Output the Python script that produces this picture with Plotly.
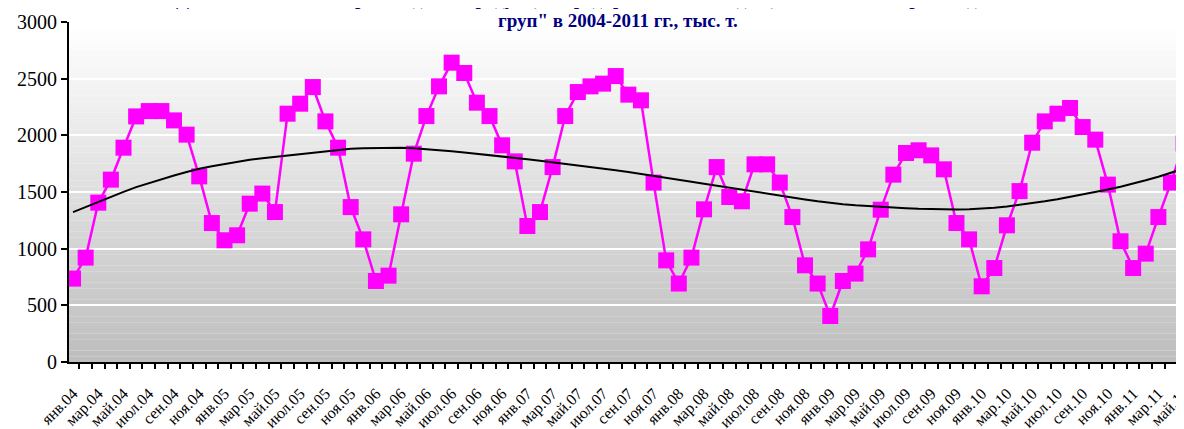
import plotly.graph_objects as go

month_names = ["янв", "фев", "мар", "апр", "май", "июн", "июл", "авг", "сен", "окт", "ноя", "дек"]
years = ["04", "05", "06", "07", "08", "09", "10", "11"]
categories = [f"{m}.{y}" for y in years for m in month_names][:89]  # янв.04 … май.11

production = [
    736, 921, 1406, 1609, 1891, 2167, 2214, 2214, 2132, 2006, 1638, 1226,
    1074, 1118, 1397, 1486, 1323, 2191, 2279, 2426, 2123, 1891, 1367, 1082,
    715, 762, 1303, 1838, 2170, 2432, 2641, 2550, 2288, 2170, 1912, 1770,
    1200, 1323, 1720, 2170, 2382, 2432, 2456, 2523, 2359, 2309, 1583, 897,
    692, 921, 1347, 1720, 1456, 1418, 1744, 1744, 1583, 1279, 853, 692,
    406, 715, 780, 994, 1344, 1653, 1844, 1868, 1823, 1700, 1226, 1082,
    668, 829, 1206, 1508, 1935, 2123, 2191, 2241, 2073, 1962, 1565, 1065,
    829, 956, 1279, 1583, 1927,
]

trend = [
    1323, 1369, 1414, 1458, 1501, 1543, 1579, 1613, 1646, 1676, 1705, 1727,
    1748, 1767, 1784, 1798, 1810, 1823, 1836, 1849, 1861, 1872, 1881, 1887,
    1890, 1892, 1890, 1885, 1878, 1869, 1859, 1849, 1838, 1826, 1814, 1802,
    1789, 1776, 1763, 1749, 1735, 1721, 1707, 1692, 1677, 1661, 1644, 1627,
    1609, 1591, 1573, 1555, 1537, 1519, 1501, 1484, 1467, 1450, 1434, 1418,
    1403, 1392, 1383, 1375, 1368, 1362, 1357, 1352, 1349, 1347, 1346, 1347,
    1352, 1361, 1373, 1387, 1402, 1418, 1436, 1456, 1477, 1499, 1522, 1547,
    1574, 1603, 1635, 1669, 1706,
]

tick_labels = categories[::2]
y_ticks = [0, 500, 1000, 1500, 2000, 2500, 3000]

idx = list(range(len(categories)))

fig = go.Figure()
fig.add_trace(go.Scatter(
    x=idx, y=production, mode="lines+markers",
    line=dict(color="#ff00ff", width=2.5),
    marker=dict(symbol="square", size=16, color="#ff00ff"),
    showlegend=False, hoverinfo="skip",
))
fig.add_trace(go.Scatter(
    x=idx, y=trend, mode="lines",
    line=dict(color="#000000", width=2),
    showlegend=False, hoverinfo="skip",
))

# gradient plot background (white at top to grey at bottom)
shapes = []
n = 60
top, bottom = (255, 255, 255), (190, 190, 190)
for k in range(n):
    f = k / (n - 1)
    c = tuple(int(round(top[i] + (bottom[i] - top[i]) * f)) for i in range(3))
    y1 = 3000 - k * 3000 / n
    y0 = 3000 - (k + 1) * 3000 / n
    shapes.append(dict(type="rect", xref="paper", yref="y", x0=0, x1=1, y0=y0, y1=y1,
                       fillcolor=f"rgb{c}", line=dict(width=0), layer="below"))

serif = "Liberation Serif, Times New Roman, serif"
title_font = dict(family=serif, size=19, color="#000080", weight="bold")

fig.update_layout(
    width=1176, height=421,
    margin=dict(l=61, r=0, t=14, b=67, autoexpand=False),
    paper_bgcolor="white", plot_bgcolor="white",
    shapes=shapes,
    font=dict(family=serif, color="black"),
    annotations=[
        dict(xref="paper", yref="paper", x=0.4924, y=1 + 24 / 340, yanchor="middle",
             text='Динамика объемов производства продукции предприятиями, входящими в состав "производственных',
             showarrow=False, font=title_font),
        dict(xref="paper", yref="paper", x=0.4924, y=1 + 2 / 340, yanchor="middle",
             text='груп" в 2004-2011 гг., тыс. т.',
             showarrow=False, font=title_font),
    ],
    xaxis=dict(
        range=[-0.32, 88.03], showgrid=False, zeroline=False,
        showline=True, linecolor="black", linewidth=2,
        tickmode="array", tickvals=idx[::2], ticktext=tick_labels,
        ticks="", tickangle=-45, ticklabelstandoff=14, ticklabeloverflow="allow",
        tickfont=dict(family=serif, size=16, color="black"),
        minor=dict(tickmode="linear", tick0=-0.5, dtick=1, ticks="outside",
                   ticklen=5, tickwidth=2, tickcolor="black", showgrid=False),
    ),
    yaxis=dict(
        range=[0, 3000], tickmode="array", tickvals=y_ticks,
        showgrid=True, gridcolor="white", gridwidth=2, zeroline=False,
        showline=True, linecolor="black", linewidth=2,
        ticks="outside", ticklen=6, tickwidth=2, tickcolor="black",
        tickfont=dict(family=serif, size=20, color="black"),
    ),
)

fig.write_html("out.html")
